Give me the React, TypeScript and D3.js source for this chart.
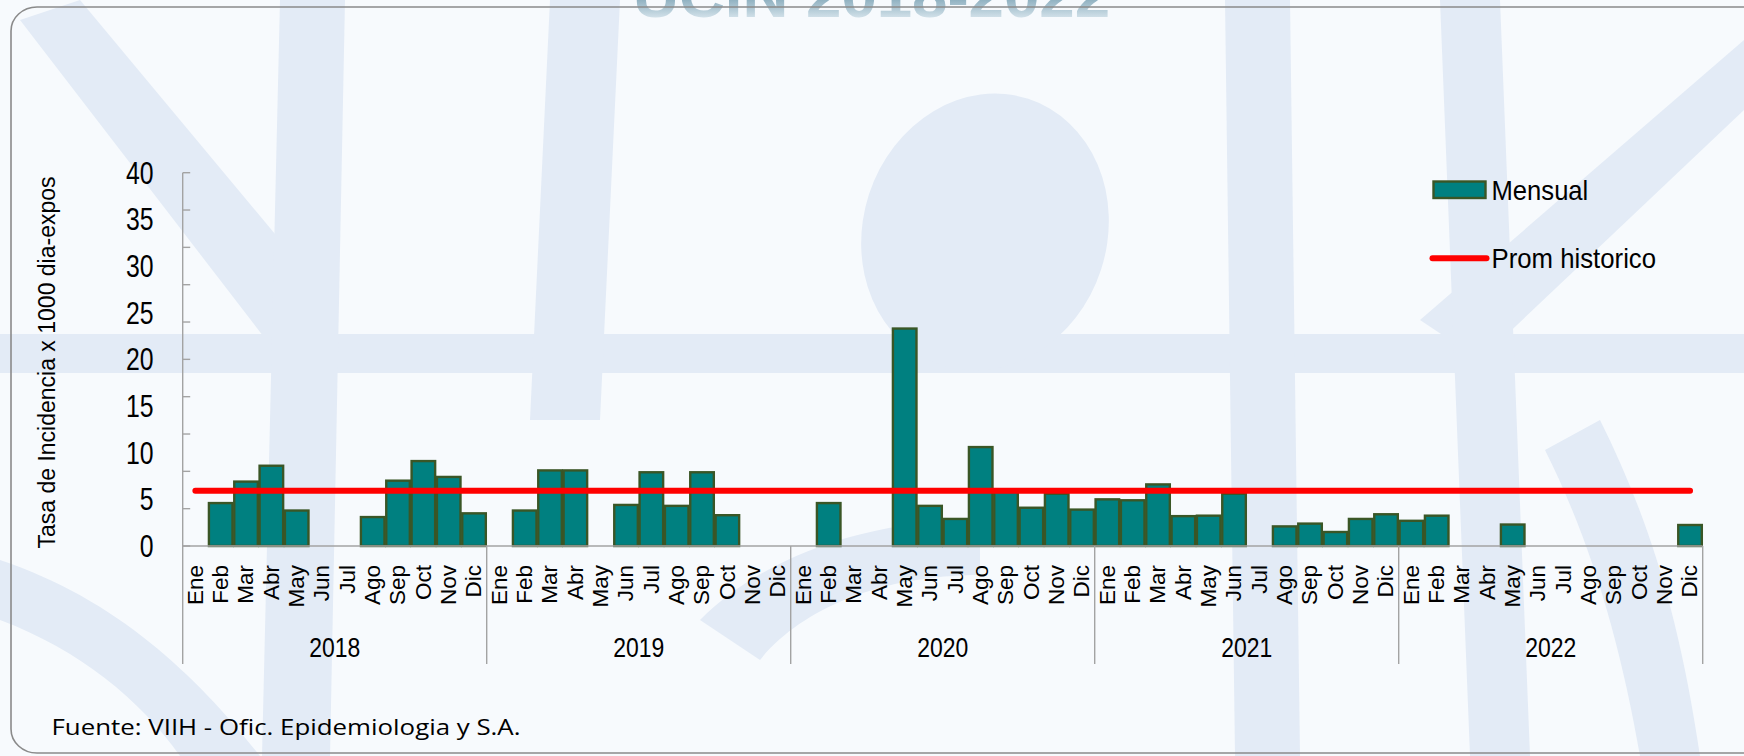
import React from "react";
import * as d3 from "d3";

// ---- Data ----
const MONTHS = ["Ene", "Feb", "Mar", "Abr", "May", "Jun", "Jul", "Ago", "Sep", "Oct", "Nov", "Dic"];
const YEARS = ["2018", "2019", "2020", "2021", "2022"];
const MENSUAL_2018 = [0, 4.6, 6.9, 8.6, 3.8, 0, 0, 3.1, 7.0, 9.1, 7.4, 3.5];
const MENSUAL_2019 = [0, 3.8, 8.1, 8.1, 0, 4.4, 7.9, 4.3, 7.9, 3.3, 0, 0];
const MENSUAL_2020 = [0, 4.6, 0, 0, 23.3, 4.3, 2.9, 10.6, 5.8, 4.1, 5.6, 3.9];
const MENSUAL_2021 = [5.0, 4.9, 6.6, 3.2, 3.25, 5.6, 0, 2.1, 2.4, 1.5, 2.9, 3.4];
const MENSUAL_2022 = [2.7, 3.25, 0, 0, 2.3, 0, 0, 0, 0, 0, 0, 2.25];
const PROM_HISTORICO = 5.92;
const Y_LABELS = [0, 5, 10, 15, 20, 25, 30, 35, 40];
const Y_TICKS = [0, 4, 8, 12, 16, 20, 24, 28, 32, 36, 40];
const TITLE = "UCIN 2018-2022";
const Y_TITLE = "Tasa de Incidencia x 1000 dia-expos";
const SOURCE = "Fuente: VIIH - Ofic. Epidemiologia y S.A.";
const SERIES_NAMES = ["Mensual", "Prom historico"];

const ALL_SERIES = [MENSUAL_2018, MENSUAL_2019, MENSUAL_2020, MENSUAL_2021, MENSUAL_2022];

const W = 1744;
const H = 756;
const X0 = 182.7;
const X1 = 1702.7;
const Y_BASE = 546;
const Y_TOP = 172.7;

const BAR_FILL = "#008080";
const BAR_STROKE = "#3a5626";
const AXIS = "#a3a3a3";
const SANS = "'Liberation Sans', Arial, sans-serif";

export default function App() {
  const data = YEARS.flatMap((yr, i) =>
    MONTHS.map((m, j) => ({ key: `${yr}-${m}`, year: yr, month: m, value: ALL_SERIES[i][j] }))
  );

  const x = d3
    .scaleBand<string>()
    .domain(data.map((d) => d.key))
    .range([X0, X1])
    .paddingInner(0.07)
    .paddingOuter(0.035);
  const xYear = d3.scaleBand<string>().domain(YEARS).range([X0, X1]);
  const y = d3.scaleLinear().domain([0, 40]).range([Y_BASE, Y_TOP]);
  const step = x.step();
  const center = (k: string) => (x(k) as number) + x.bandwidth() / 2;

  const promLine = d3
    .line<{ key: string }>()
    .x((d) => center(d.key))
    .y(() => y(PROM_HISTORICO));
  const promPts = [data[0], data[data.length - 1]];

  const labelStep = (Y_BASE - Y_TOP) / (Y_LABELS.length - 1);

  return (
    <svg
      width={W}
      height={H}
      viewBox={`0 0 ${W} ${H}`}
      style={{ position: "absolute", left: 0, top: 0, display: "block" }}
    >
      <defs>
        <linearGradient id="titleGrad" gradientUnits="userSpaceOnUse" x1="0" y1="-40" x2="0" y2="18">
          <stop offset="0" stopColor="#2e6a86" />
          <stop offset="0.6" stopColor="#7ea4b6" />
          <stop offset="1" stopColor="#d3e2ea" />
        </linearGradient>
      </defs>

      {/* background */}
      <rect x={0} y={0} width={W} height={H} fill="#f7fafd" />

      {/* faint watermark */}
      <g fill="#e3ebf6" stroke="none">
        <rect x={0} y={334} width={W} height={39} />
        <path d="M20,20 L80,0 L330,300 L270,345 Z" />
        <path d="M280,0 L345,0 L330,756 L262,756 Z" />
        <path d="M550,0 L620,0 L600,420 L530,420 Z" />
        <ellipse cx={985} cy={232} rx={122} ry={140} transform="rotate(18 985 232)" />
        <path d="M1225,0 L1290,0 L1300,756 L1235,756 Z" />
        <path d="M1744,40 L1744,110 L1480,360 L1420,320 Z" />
        <path d="M1440,0 L1500,0 L1530,756 L1470,756 Z" />
        <path d="M0,560 C120,600 200,680 260,756 L180,756 C140,700 80,650 0,620 Z" />
        <path d="M700,620 C760,560 860,520 980,520 L980,575 C880,575 800,610 760,660 Z" />
        <path d="M1600,420 C1650,520 1680,620 1700,756 L1640,756 C1620,640 1590,540 1545,450 Z" />
      </g>

      {/* clipped title at the top */}
      <text
        x={633}
        y={17}
        fontFamily={SANS}
        fontWeight="bold"
        fontSize={62}
        textLength={477}
        lengthAdjust="spacingAndGlyphs"
        fill="url(#titleGrad)"
      >
        {TITLE}
      </text>

      {/* panel border */}
      <rect x={11} y={7} width={1760} height={746} rx={26} ry={24} fill="none" stroke="#8a8a8a" strokeWidth={1.6} />

      {/* y axis */}
      <line x1={X0} x2={X0} y1={Y_TOP} y2={Y_BASE} stroke={AXIS} strokeWidth={1.4} />
      {Y_TICKS.map((t) => (
        <line key={`t${t}`} x1={X0} x2={X0 + 7.5} y1={y(t)} y2={y(t)} stroke={AXIS} strokeWidth={1.4} />
      ))}
      {Y_LABELS.map((v, i) => (
        <text
          key={`l${v}`}
          transform={`translate(153.5, ${Y_TOP + (Y_LABELS.length - 1 - i) * labelStep + 11}) scale(0.8,1)`}
          textAnchor="end"
          fontFamily={SANS}
          fontSize={31}
          fill="#000"
        >
          {v}
        </text>
      ))}
      <text
        transform={`translate(55, 362.5) rotate(-90)`}
        textAnchor="middle"
        fontFamily={SANS}
        fontSize={23}
        fill="#000"
      >
        {Y_TITLE}
      </text>

      {/* bars */}
      {data
        .filter((d) => d.value > 0)
        .map((d) => (
          <rect
            key={d.key}
            x={x(d.key)}
            y={y(d.value)}
            width={x.bandwidth()}
            height={Y_BASE - y(d.value)}
            fill={BAR_FILL}
            stroke={BAR_STROKE}
            strokeWidth={2.4}
          />
        ))}

      {/* x axis */}
      <line x1={X0} x2={X1} y1={Y_BASE} y2={Y_BASE} stroke={AXIS} strokeWidth={1.4} />
      {[...YEARS.map((yr) => xYear(yr) as number), X1].map((sx, i) => (
        <line key={`s${i}`} x1={sx} x2={sx} y1={Y_BASE} y2={664} stroke={AXIS} strokeWidth={1.4} />
      ))}

      {/* month labels */}
      {data.map((d) => (
        <text
          key={`m${d.key}`}
          transform={`translate(${center(d.key) - 0.5}, 565) rotate(-90)`}
          dy="0.35em"
          textAnchor="end"
          fontFamily={SANS}
          fontSize={22.5}
          fill="#000"
        >
          {d.month}
        </text>
      ))}

      {/* year labels */}
      {YEARS.map((yr) => (
        <text
          key={`y${yr}`}
          transform={`translate(${(xYear(yr) as number) + xYear.bandwidth() / 2}, 656.5) scale(0.82,1)`}
          textAnchor="middle"
          fontFamily={SANS}
          fontSize={28}
          fill="#000"
        >
          {yr}
        </text>
      ))}

      {/* historical average line */}
      <path
        d={promLine(promPts) as string}
        fill="none"
        stroke="#ff0000"
        strokeWidth={6}
        strokeLinecap="round"
      />

      {/* legend */}
      <rect x={1433.5} y={181.5} width={52} height={16.5} fill={BAR_FILL} stroke={BAR_STROKE} strokeWidth={2.4} />
      <text
        transform="translate(1491.5, 200) scale(0.915,1)"
        fontFamily={SANS}
        fontSize={28}
        fill="#000"
      >
        {SERIES_NAMES[0]}
      </text>
      <line x1={1432.5} x2={1486.5} y1={258.3} y2={258.3} stroke="#ff0000" strokeWidth={6} strokeLinecap="round" />
      <text
        transform="translate(1491.5, 268.3) scale(0.92,1)"
        fontFamily={SANS}
        fontSize={28}
        fill="#000"
      >
        {SERIES_NAMES[1]}
      </text>

      {/* source */}
      <text
        x={51.5}
        y={735}
        fontFamily="'Open Sans', 'Noto Sans', sans-serif"
        fontSize={21}
        textLength={469}
        lengthAdjust="spacingAndGlyphs"
        fill="#000"
      >
        {SOURCE}
      </text>
    </svg>
  );
}
